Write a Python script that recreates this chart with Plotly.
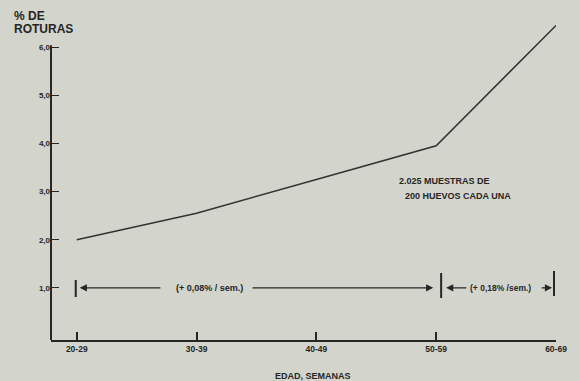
import plotly.graph_objects as go

categories = ["20-29", "30-39", "40-49", "50-59", "60-69"]
roturas = [2.0, 2.55, 3.25, 3.95, 6.45]
y_tick_vals = [1, 2, 3, 4, 5, 6]
y_tick_text = ["1,0", "2,0", "3,0", "4,0", "5,0", "6,0"]

xi = list(range(len(categories)))
ink = "#262626"
bg = "#d3d4cc"
font_family = "Liberation Sans, Arial, sans-serif"

SP = 121.0  # px per category
X0 = (51 - 77) / SP

fig = go.Figure()
fig.add_trace(go.Scatter(x=xi, y=roturas, mode="lines",
                         line=dict(color="#333333", width=1.5),
                         showlegend=False, hoverinfo="skip"))

fig.update_xaxes(range=[X0, 4.0], tickvals=xi, ticktext=categories,
                 showline=True, linecolor=ink, linewidth=2,
                 ticks="inside", ticklen=8, tickwidth=2, tickcolor=ink,
                 showgrid=False, zeroline=False,
                 tickfont=dict(family=font_family, size=8.5, color=ink, weight="bold"))
fig.update_yaxes(range=[-0.083, 6.5], tickvals=y_tick_vals, ticktext=y_tick_text,
                 showline=False, ticks="inside", ticklen=8, tickwidth=1.2,
                 tickcolor=ink, showgrid=False, zeroline=False,
                 tickfont=dict(family=font_family, size=8, color=ink, weight="bold"))

shapes = [
    dict(type="line", xref="paper", yref="y", x0=0, x1=0, y0=-0.083, y1=6.04,
         line=dict(color=ink, width=2)),
]

def px2x(px):
    return (px - 77) / SP

def py2y(py):
    return (336 - py) / 48.15

for bx, top, bot in [(76, 280, 297), (445, 273, 298), (559, 271, 296)]:
    shapes.append(dict(type="line", xref="x", yref="y", x0=px2x(bx), x1=px2x(bx),
                       y0=py2y(bot), y1=py2y(top), line=dict(color=ink, width=2)))

annotations = []
row_y = 1.0
def arrow(head_px, tail_px):
    annotations.append(dict(x=px2x(head_px), y=row_y, ax=px2x(tail_px), ay=row_y,
                            xref="x", yref="y", axref="x", ayref="y", text="",
                            showarrow=True, arrowhead=2, arrowsize=1.1,
                            arrowwidth=1.3, arrowcolor=ink))

arrow(80, 163)
arrow(437, 253)
arrow(450, 472)
arrow(557, 545)

def text(px, py, s, size=8, anchor="center"):
    annotations.append(dict(x=px2x(px), y=py2y(py), xref="x", yref="y", text=s,
                            showarrow=False, xanchor=anchor, yanchor="middle",
                            font=dict(family=font_family, size=size, color=ink)))

text(211, 288, "<b>(+ 0,08% / sem.)</b>", 9)
text(505, 288, "<b>(+ 0,18% /sem.)</b>", 8.5)
text(400, 181, "<b>2.025 MUESTRAS DE</b>", 9)
text(406, 196, "<b>200 HUEVOS CADA UNA</b>", 9)
annotations[-2].update(xanchor="left")
annotations[-1].update(xanchor="left")

def ptext(px, py, s, size, anchor="left"):
    annotations.append(dict(x=(px - 51) / 510, y=(340 - py) / 317, xref="paper",
                            yref="paper", text=s, showarrow=False, xanchor=anchor,
                            yanchor="middle",
                            font=dict(family=font_family, size=size, color=ink)))

ptext(12, 16, "<b>% DE</b>", 12)
ptext(12, 29, "<b>ROTURAS</b>", 12)
ptext(316, 376, "<b>EDAD, SEMANAS</b>", 9, "center")

fig.update_layout(width=579, height=381,
                  margin=dict(l=51, r=18, t=23, b=41),
                  paper_bgcolor=bg, plot_bgcolor=bg,
                  shapes=shapes, annotations=annotations,
                  showlegend=False)
fig.write_html("out.html", config={"displayModeBar": False},
               post_script="document.body.style.margin='0';document.body.style.overflow='hidden';document.body.style.background='%s';" % bg)
